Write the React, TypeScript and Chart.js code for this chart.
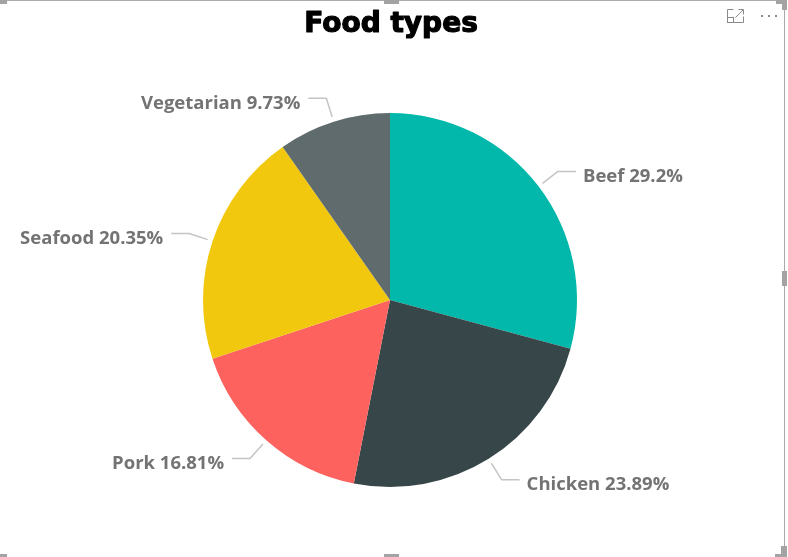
import React, { useEffect, useRef } from "react";
import { Chart, registerables } from "chart.js";

Chart.register(...registerables);

const categories = ["Beef", "Chicken", "Pork", "Seafood", "Vegetarian"];
const shares = [29.2, 23.89, 16.81, 20.35, 9.73];
const colors = ["#01B8AA", "#374649", "#FD625E", "#F2C80F", "#5F6B6D"];
const titleText = "Food types";

const leaderPlugin = {
  id: "leaderLabels",
  afterDatasetsDraw(chart: any) {
    const ctx = chart.ctx;
    const meta = chart.getDatasetMeta(0);
    ctx.save();
    // title
    ctx.fillStyle = "#000000";
    ctx.strokeStyle = "#000000";
    ctx.lineWidth = 1.2;
    ctx.lineJoin = "round";
    ctx.font = "bold 28px 'DejaVu Sans'";
    ctx.textAlign = "center";
    ctx.textBaseline = "alphabetic";
    ctx.fillText(titleText, 391, 31.5);
    ctx.strokeText(titleText, 391, 31.5);

    meta.data.forEach((arc: any, i: number) => {
      const { x, y, startAngle, endAngle, outerRadius } = arc.getProps(
        ["x", "y", "startAngle", "endAngle", "outerRadius"],
        true
      );
      const mid = (startAngle + endAngle) / 2;
      const c = Math.cos(mid);
      const s = Math.sin(mid);
      const r0 = outerRadius + 5;
      const r1 = outerRadius + 24.5;
      const x0 = x + c * r0;
      const y0 = y + s * r0;
      const x1 = x + c * r1;
      const y1 = y + s * r1;
      const right = c >= 0;
      const x2 = x1 + (right ? 18 : -18);
      ctx.strokeStyle = "#c4c4c4";
      ctx.lineWidth = 1.5;
      ctx.beginPath();
      ctx.moveTo(x0, y0);
      ctx.lineTo(x1, y1);
      ctx.lineTo(x2, y1);
      ctx.stroke();
      ctx.fillStyle = "#737373";
      ctx.font = "700 18.5px 'Open Sans'";
      ctx.textBaseline = "middle";
      ctx.textAlign = right ? "left" : "right";
      const txt = `${categories[i]} ${shares[i]}%`;
      ctx.fillText(txt, right ? x2 + 7 : x2 - 8, y1 + 5);
    });
    ctx.restore();
  },
};

export default function App() {
  const ref = useRef<HTMLCanvasElement>(null);
  useEffect(() => {
    if (!ref.current) return;
    const chart = new Chart(ref.current, {
      type: "pie",
      data: {
        labels: categories,
        datasets: [
          {
            data: shares,
            backgroundColor: colors,
            borderWidth: 0,
          },
        ],
      },
      options: {
        responsive: false,
        animation: false,
        layout: { padding: { left: 100, right: 108, top: 113, bottom: 70 } },
        plugins: {
          legend: { display: false },
          tooltip: { enabled: false },
          title: { display: false },
        },
      },
      plugins: [leaderPlugin],
    });
    return () => chart.destroy();
  }, []);

  const handle = (l: number, t: number, w: number, h: number) => (
    <div style={{ position: "absolute", left: l, top: t, width: w, height: h, background: "#a3a3a3" }} />
  );

  return (
    <div style={{ position: "fixed", left: 0, top: 0, width: 788, height: 557, background: "#fff", overflow: "hidden" }}>
      <canvas ref={ref} width={788} height={557} style={{ position: "absolute", left: 0, top: 0 }} />
      <div style={{ position: "absolute", left: 0, top: 0, width: 786, height: 1, background: "#ababab" }} />
      <div style={{ position: "absolute", left: 784, top: 0, width: 1, height: 557, background: "#ababab" }} />
      {handle(0, 0, 7, 4)}
      {handle(384, 0, 15, 4)}
      {handle(776, 0, 11, 4)}
      {handle(782, 0, 5, 10)}
      {handle(782, 271, 5, 15)}
      {handle(384, 554, 15, 3)}
      {handle(0, 554, 7, 3)}
      {handle(775, 554, 12, 3)}
      {handle(781, 546, 6, 11)}
      <svg style={{ position: "absolute", left: 724, top: 6 }} width={60} height={20}>
        <g fill="none" stroke="#8a8a8a" strokeWidth={1}>
          <polyline points="9.5,3.5 3.5,3.5 3.5,16.5 19.5,16.5 19.5,10.5" />
          <rect x={3.5} y={11.5} width={6} height={5} />
          <line x1={11.5} y1={11.5} x2={19} y2={4} />
          <polyline points="14.5,3.5 19.5,3.5 19.5,8.5" />
        </g>
        <g fill="#8a8a8a">
          <rect x={37} y={9} width={2} height={2} />
          <rect x={44} y={9} width={2} height={2} />
          <rect x={51} y={9} width={2} height={2} />
        </g>
      </svg>
    </div>
  );
}
